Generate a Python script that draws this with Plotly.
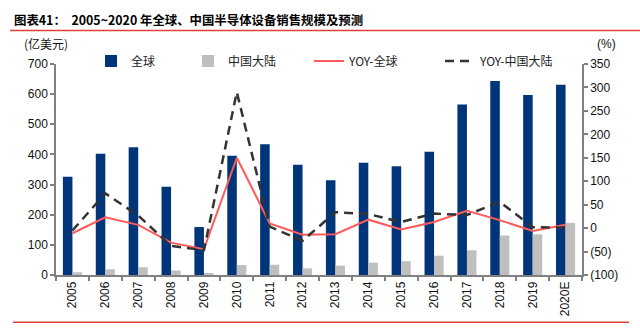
import plotly.graph_objects as go

years = ["2005", "2006", "2007", "2008", "2009", "2010", "2011", "2012",
         "2013", "2014", "2015", "2016", "2017", "2018", "2019", "2020E"]
global_sales = [326, 402, 424, 293, 159, 396, 434, 366,
                314, 372, 361, 409, 566, 644, 597, 631]
china_sales = [9, 19, 26, 15, 6, 33, 34, 22,
               31, 41, 46, 64, 82, 131, 135, 173]
yoy_global = [-11, 23, 7, -31, -45, 150, 10, -14,
              -13, 18, -3, 13, 37, 17, -6, 7]
yoy_china = [-5, 74, 27, -38, -47, 290, 3, -27,
             34, 30, 13, 31, 28, 56, 2, 1]
right_ticks = [-100, -50, 0, 50, 100, 150, 200, 250, 300, 350]
right_labels = ["(100)", "(50)", "0", "50", "100", "150", "200", "250", "300", "350"]

FONT = "Liberation Sans, Arial, Noto Sans CJK SC, sans-serif"
CJK = "Noto Sans CJK SC, sans-serif"

W, H = 640, 328
L, R, T, B = 56, 58, 64, 50
pw = W - L - R
ph = H - T - B

def px(x):
    return (x - L) / pw

def py(y):
    return (H - B - y) / ph

fig = go.Figure()
fig.add_trace(go.Bar(x=years, y=global_sales, name="全球", marker_color="#00357A",
                     marker_line_width=0, legend="legend"))
fig.add_trace(go.Bar(x=years, y=china_sales, name="中国大陆", marker_color="#BFBFBF",
                     marker_line_width=0, legend="legend2"))
fig.add_trace(go.Scatter(x=years, y=yoy_global, name="YOY-全球", mode="lines",
                         line=dict(color="#FF5A5A", width=2), yaxis="y2", legend="legend3"))
fig.add_trace(go.Scatter(x=years, y=yoy_china, name="YOY-中国大陆", mode="lines",
                         line=dict(color="#333333", width=2.5, dash="9px,6px"),
                         yaxis="y2", legend="legend4"))

def leg(xpix):
    return dict(x=px(xpix), xanchor="left", y=py(61), yanchor="middle",
                orientation="h", bgcolor="rgba(0,0,0,0)",
                font=dict(family=CJK, size=12, color="#222222"))

axis_common = dict(showline=True, linecolor="#808080", linewidth=1.5,
                   ticks="outside", ticklen=4, tickcolor="#808080", tickwidth=1.5,
                   showgrid=False, zeroline=False,
                   tickfont=dict(family=FONT, size=12, color="#111111"))

fig.update_layout(
    width=W, height=H,
    margin=dict(l=L, r=R, t=T, b=B),
    paper_bgcolor="white", plot_bgcolor="white",
    barmode="group", bargap=0.42, bargroupgap=0,
    showlegend=True,
    legend=leg(91), legend2=leg(188), legend3=leg(309), legend4=leg(440),
    xaxis=dict(type="category", tickson="boundaries", tickangle=-90, **axis_common),
    yaxis=dict(range=[0, 700], dtick=100, **axis_common),
    yaxis2=dict(range=[-100, 350], tickvals=right_ticks, ticktext=right_labels,
                overlaying="y", side="right", **axis_common),
    title=dict(text="<b>图表41：  2005~2020 年全球、中国半导体设备销售规模及预测</b>",
               x=14 / W, xanchor="left", y=1 - 21 / H, yanchor="middle",
               font=dict(family=CJK, size=12.4, color="#000000")),
    shapes=[
        dict(type="line", xref="paper", yref="paper", x0=px(10), x1=px(640),
             y0=py(30), y1=py(30), line=dict(color="#E0403A", width=1.5)),
        dict(type="line", xref="paper", yref="paper", x0=px(13), x1=px(629),
             y0=py(326), y1=py(326), line=dict(color="#E0403A", width=1.5)),
    ],
    annotations=[
        dict(text="(亿美元)", xref="paper", yref="paper", x=px(22), y=py(43),
             xanchor="left", yanchor="middle", showarrow=False,
             font=dict(family=CJK, size=12, color="#111111")),
        dict(text="(%)", xref="paper", yref="paper", x=px(595), y=py(44),
             xanchor="left", yanchor="middle", showarrow=False,
             font=dict(family=FONT, size=12, color="#111111")),
    ],
)

fig.write_html("out.html")
